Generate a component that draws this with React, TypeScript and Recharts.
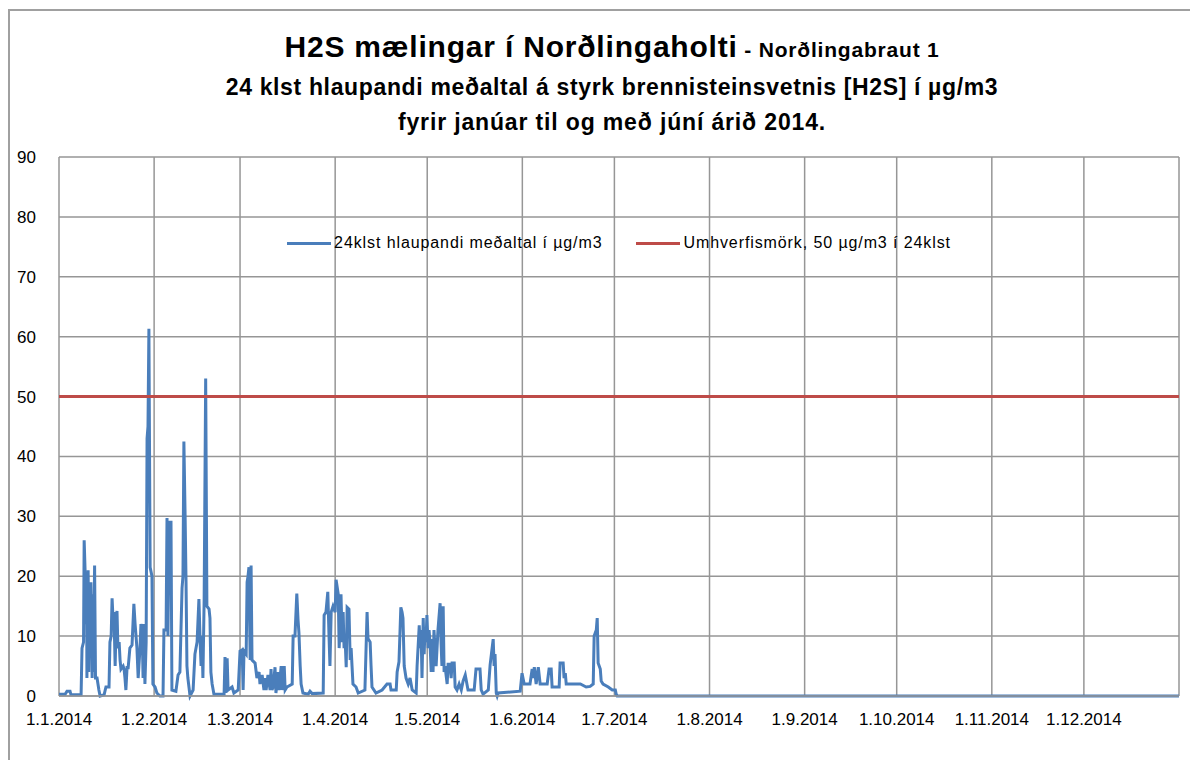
import { LineChart, Line, XAxis, YAxis, CartesianGrid, Legend } from "recharts"

// day of year (0 = 1.1.2014) for each reading, and the 24h running mean in µg/m3
const days = [
  0, 2.0, 2.6, 3.6, 3.9, 7.2, 7.5, 8.0, 8.2, 8.5, 8.8, 9.0, 9.1, 9.5, 9.7, 9.9, 10.3, 10.4, 10.8, 11.1,
  11.2, 11.6, 11.9, 12.4, 12.7, 13.0, 13.4, 14.7, 15.3, 16.3, 16.6, 17.0, 17.3, 17.6, 17.9, 18.3, 18.6,
  18.9, 19.2, 19.6, 19.9, 20.2, 20.9, 21.2, 21.5, 21.8, 22.2, 22.5, 23.1, 23.8, 24.4, 24.8, 25.1, 25.4,
  25.8, 26.4, 26.7, 27.1, 27.4, 27.7, 28.0, 28.4, 28.7, 29.0, 29.3, 29.7, 30.3, 30.6, 31.3, 31.9, 32.9,
  33.9, 34.2, 34.9, 35.2, 35.5, 35.9, 36.5, 36.8, 38.1, 38.8, 39.4, 40.1, 40.4, 40.7, 41.1, 41.4, 41.7,
  42.0, 42.7, 43.7, 44.3, 45.0, 45.6, 46.0, 46.3, 46.6, 46.9, 47.3, 47.8, 48.2, 48.9, 49.2, 49.5, 49.9,
  50.5, 53.8, 54.1, 54.4, 54.8, 55.1, 56.4, 57.0, 58.4, 59.0, 59.7, 60.0, 60.3, 61.0, 61.3, 61.6, 61.9,
  62.3, 62.6, 62.9, 63.9, 64.5, 65.2, 65.5, 66.2, 66.8, 67.1, 67.5, 68.1, 68.8, 69.1, 69.4, 69.8, 70.4,
  70.7, 71.4, 71.7, 72.4, 72.7, 73.4, 73.7, 74.3, 76.0, 76.3, 76.9, 77.5, 77.9, 78.2, 78.6, 78.9, 79.5,
  81.2, 81.8, 82.5, 86.1, 86.4, 87.0, 87.6, 88.0, 88.3, 88.7, 89.3, 90.0, 90.3, 91.0, 91.3, 91.6, 91.9,
  92.3, 92.6, 92.9, 93.2, 93.6, 93.9, 94.5, 94.9, 95.2, 95.5, 95.8, 96.8, 97.5, 99.7, 100.4, 100.7,
  101.4, 101.7, 102.0, 103.3, 105.3, 106.9, 107.9, 108.2, 109.9, 110.2, 110.8, 111.4, 111.8, 112.1,
  112.5, 113.1, 113.8, 114.4, 115.1, 116.4, 116.7, 117.4, 117.7, 118.0, 118.3, 118.7, 119.0, 119.3,
  119.6, 119.9, 120.3, 120.6, 120.9, 121.3, 121.6, 121.9, 122.2, 122.9, 123.5, 124.2, 124.5, 124.8,
  125.2, 125.5, 125.8, 126.5, 126.8, 127.4, 127.8, 128.1, 128.8, 129.1, 129.7, 130.4, 131.1, 131.7,
  132.4, 133.3, 135.3, 135.9, 137.2, 137.6, 138.2, 139.9, 140.5, 141.5, 141.8, 142.1, 142.5, 142.8,
  143.1, 150.3, 150.9, 151.6, 153.5, 154.2, 154.5, 154.9, 155.5, 156.2, 156.8, 159.1, 159.7, 160.4,
  160.7, 163.0, 163.3, 164.3, 164.6, 165.0, 165.3, 167.9, 169.9, 171.8, 173.1, 174.1, 174.4, 175.1,
  175.4, 175.7, 176.4, 176.7, 177.3, 179.0, 180.3, 181.3, 181.6, 181.9, 365,
]

const h2s = [
  0.3, 0.3, 0.8, 0.8, 0.2, 0.2, 8, 9, 26, 21, 12, 20, 3, 21, 4, 18, 10, 19, 3, 17,
  4, 21.8, 3, 3, 2, 1, 0, 0.2, 1.5, 1.5, 9, 10, 16.3, 13, 14, 5, 12,
  14.2, 8, 9, 6, 4.5, 5, 4.5, 3, 1, 5, 4.5, 8, 8.5, 15.4, 12, 10, 8,
  3, 8, 12, 11, 3, 12, 2, 9, 43, 45, 61.3, 21.5, 20, 2, 1.5, 0.5, 0,
  0, 11, 11, 29.7, 10, 29, 29, 1, 0.8, 3.5, 4, 18, 20, 42.5, 30, 19, 5,
  3, 0, 1, 7, 9, 16.2, 9, 5, 10, 3, 16, 53, 15, 14.5, 13, 4, 2,
  0.3, 0.3, 6.5, 0.5, 6.3, 1, 1.5, 0.5, 1, 7.5, 7.7, 1, 7.5, 7, 19, 20, 21.5,
  6, 21.8, 6, 5.5, 3, 4, 2, 3.5, 1, 3, 1, 3.5, 1, 4.5, 1, 1.5, 4.8,
  0.5, 4, 1, 5, 1, 5, 1, 1.5, 2, 10, 10, 17.1, 12.7, 10.5, 5, 2, 0.5,
  0.3, 0.8, 0.4, 0.5, 13.5, 14, 17.4, 10, 5, 14, 15, 14, 19.4, 17, 8, 12, 17,
  9, 14, 8, 10, 4.8, 14.8, 14.5, 6, 8, 5, 2, 1.5, 0.5, 1, 14, 9.6,
  9, 5, 1.5, 0.5, 1, 2, 2, 1, 1, 4, 5.7, 14.8, 14, 13,
  5, 3, 2, 3, 1, 0.5, 5, 11.8, 8, 11, 3, 13, 7, 11.5,
  9, 13.5, 8, 11, 9, 4, 9.5, 4, 11, 5, 11, 15.5, 9, 5,
  15, 4, 5, 2, 5.3, 5.3, 3, 5.5, 5.5, 1.5, 1, 2, 1, 2.5,
  3.5, 1, 1, 4.5, 4.5, 1, 0.3, 1, 5.2, 9.5, 5, 7, 0.5, 0,
  0.5, 0.8, 3.8, 2, 2, 4.5, 3, 4.8, 2, 4.8, 2, 2, 4.5, 4.5,
  1.5, 1.5, 5.5, 5.5, 3, 3.8, 2, 2, 2, 1.5, 1.6, 2, 10, 11,
  13, 5.5, 4.5, 2.5, 2, 1.5, 1, 1, 0.3, 0, 0,
]

const limit = 50

const monthTicks = [0, 31, 59, 90, 120, 151, 181, 212, 243, 273, 304, 334, 365]
const monthLabels = [
  "1.1.2014", "1.2.2014", "1.3.2014", "1.4.2014", "1.5.2014", "1.6.2014",
  "1.7.2014", "1.8.2014", "1.9.2014", "1.10.2014", "1.11.2014", "1.12.2014", "",
]
const yTicks = [0, 10, 20, 30, 40, 50, 60, 70, 80, 90]

const data = days.map((d, i) => ({ day: d, h2s: h2s[i], limit }))

const FONT = "'Liberation Sans', Arial, sans-serif"

function LegendBox(props: any) {
  const items = props.payload || []
  return (
    <div style={{ display: "flex", justifyContent: "center", fontFamily: FONT, fontSize: 16, letterSpacing: 0.9, color: "#000" }}>
      {items.map((it: any, i: number) => (
        <div key={it.value} style={{ display: "flex", alignItems: "center", marginRight: i === 0 ? 34 : 0 }}>
          <span style={{ display: "inline-block", width: 44, height: 3, background: it.color, marginRight: 3 }} />
          <span>{it.value}</span>
        </div>
      ))}
    </div>
  )
}

export default function App() {
  return (
    <div style={{ position: "relative", width: 1190, height: 752, background: "#fff" }}>
      <div style={{ position: "absolute", left: 0, top: 1, width: 1190, height: 2, background: "#a0a0a0" }} />
      <div style={{ position: "absolute", left: 0, top: 1, width: 2, height: 751, background: "#a0a0a0" }} />

      <div
        style={{
          position: "absolute",
          left: 9,
          top: 21,
          width: 1190,
          textAlign: "center",
          fontFamily: FONT,
          fontWeight: "bold",
          color: "#000",
          zIndex: 2,
        }}
      >
        <div style={{ fontSize: 30, lineHeight: "36px", letterSpacing: 0.8 }}>
          H2S mælingar í Norðlingaholti<span style={{ fontSize: 21 }}> - Norðlingabraut 1</span>
        </div>
        <div style={{ fontSize: 23, lineHeight: "28px", marginTop: 5, letterSpacing: 0.65 }}>
          24 klst hlaupandi meðaltal á styrk brennisteinsvetnis [H2S] í µg/m3
        </div>
        <div style={{ fontSize: 23, lineHeight: "28px", marginTop: 7, letterSpacing: 0.85 }}>
          fyrir janúar til og með júní árið 2014.
        </div>
      </div>

      <div style={{ position: "absolute", left: 0, top: 0 }}>
        <LineChart
          width={1190}
          height={752}
          data={data}
          margin={{ top: 149, right: 19, bottom: 34, left: 11 }}
        >
          <CartesianGrid stroke="#969696" strokeWidth={1.5} />
          <XAxis
            dataKey="day"
            type="number"
            domain={[0, 365]}
            ticks={monthTicks}
            tickFormatter={(v: number) => monthLabels[monthTicks.indexOf(v)]}
            interval={0}
            height={30}
            tickLine={false}
            tickSize={0}
            tickMargin={17}
            axisLine={{ stroke: "#969696", strokeWidth: 1.5 }}
            tick={{ fill: "#000", fontSize: 17, fontFamily: FONT }}
          />
          <YAxis
            type="number"
            domain={[0, 90]}
            ticks={yTicks}
            interval={0}
            width={40}
            tickLine={false}
            tickSize={0}
            tickMargin={23}
            axisLine={false}
            tick={{ fill: "#000", fontSize: 17, fontFamily: FONT }}
          />
          <Legend
            layout="horizontal"
            verticalAlign="middle"
            align="center"
            content={LegendBox}
            wrapperStyle={{ top: 226, left: 51, width: 1120 }}
          />
          <Line
            type="linear"
            dataKey="h2s"
            name="24klst hlaupandi meðaltal í µg/m3"
            stroke="#4a7ebb"
            strokeWidth={3}
            dot={false}
            isAnimationActive={false}
          />
          <Line
            type="linear"
            dataKey="limit"
            name="Umhverfismörk, 50 µg/m3 í 24klst"
            stroke="#be4b48"
            strokeWidth={3}
            dot={false}
            isAnimationActive={false}
          />
        </LineChart>
      </div>
    </div>
  )
}
